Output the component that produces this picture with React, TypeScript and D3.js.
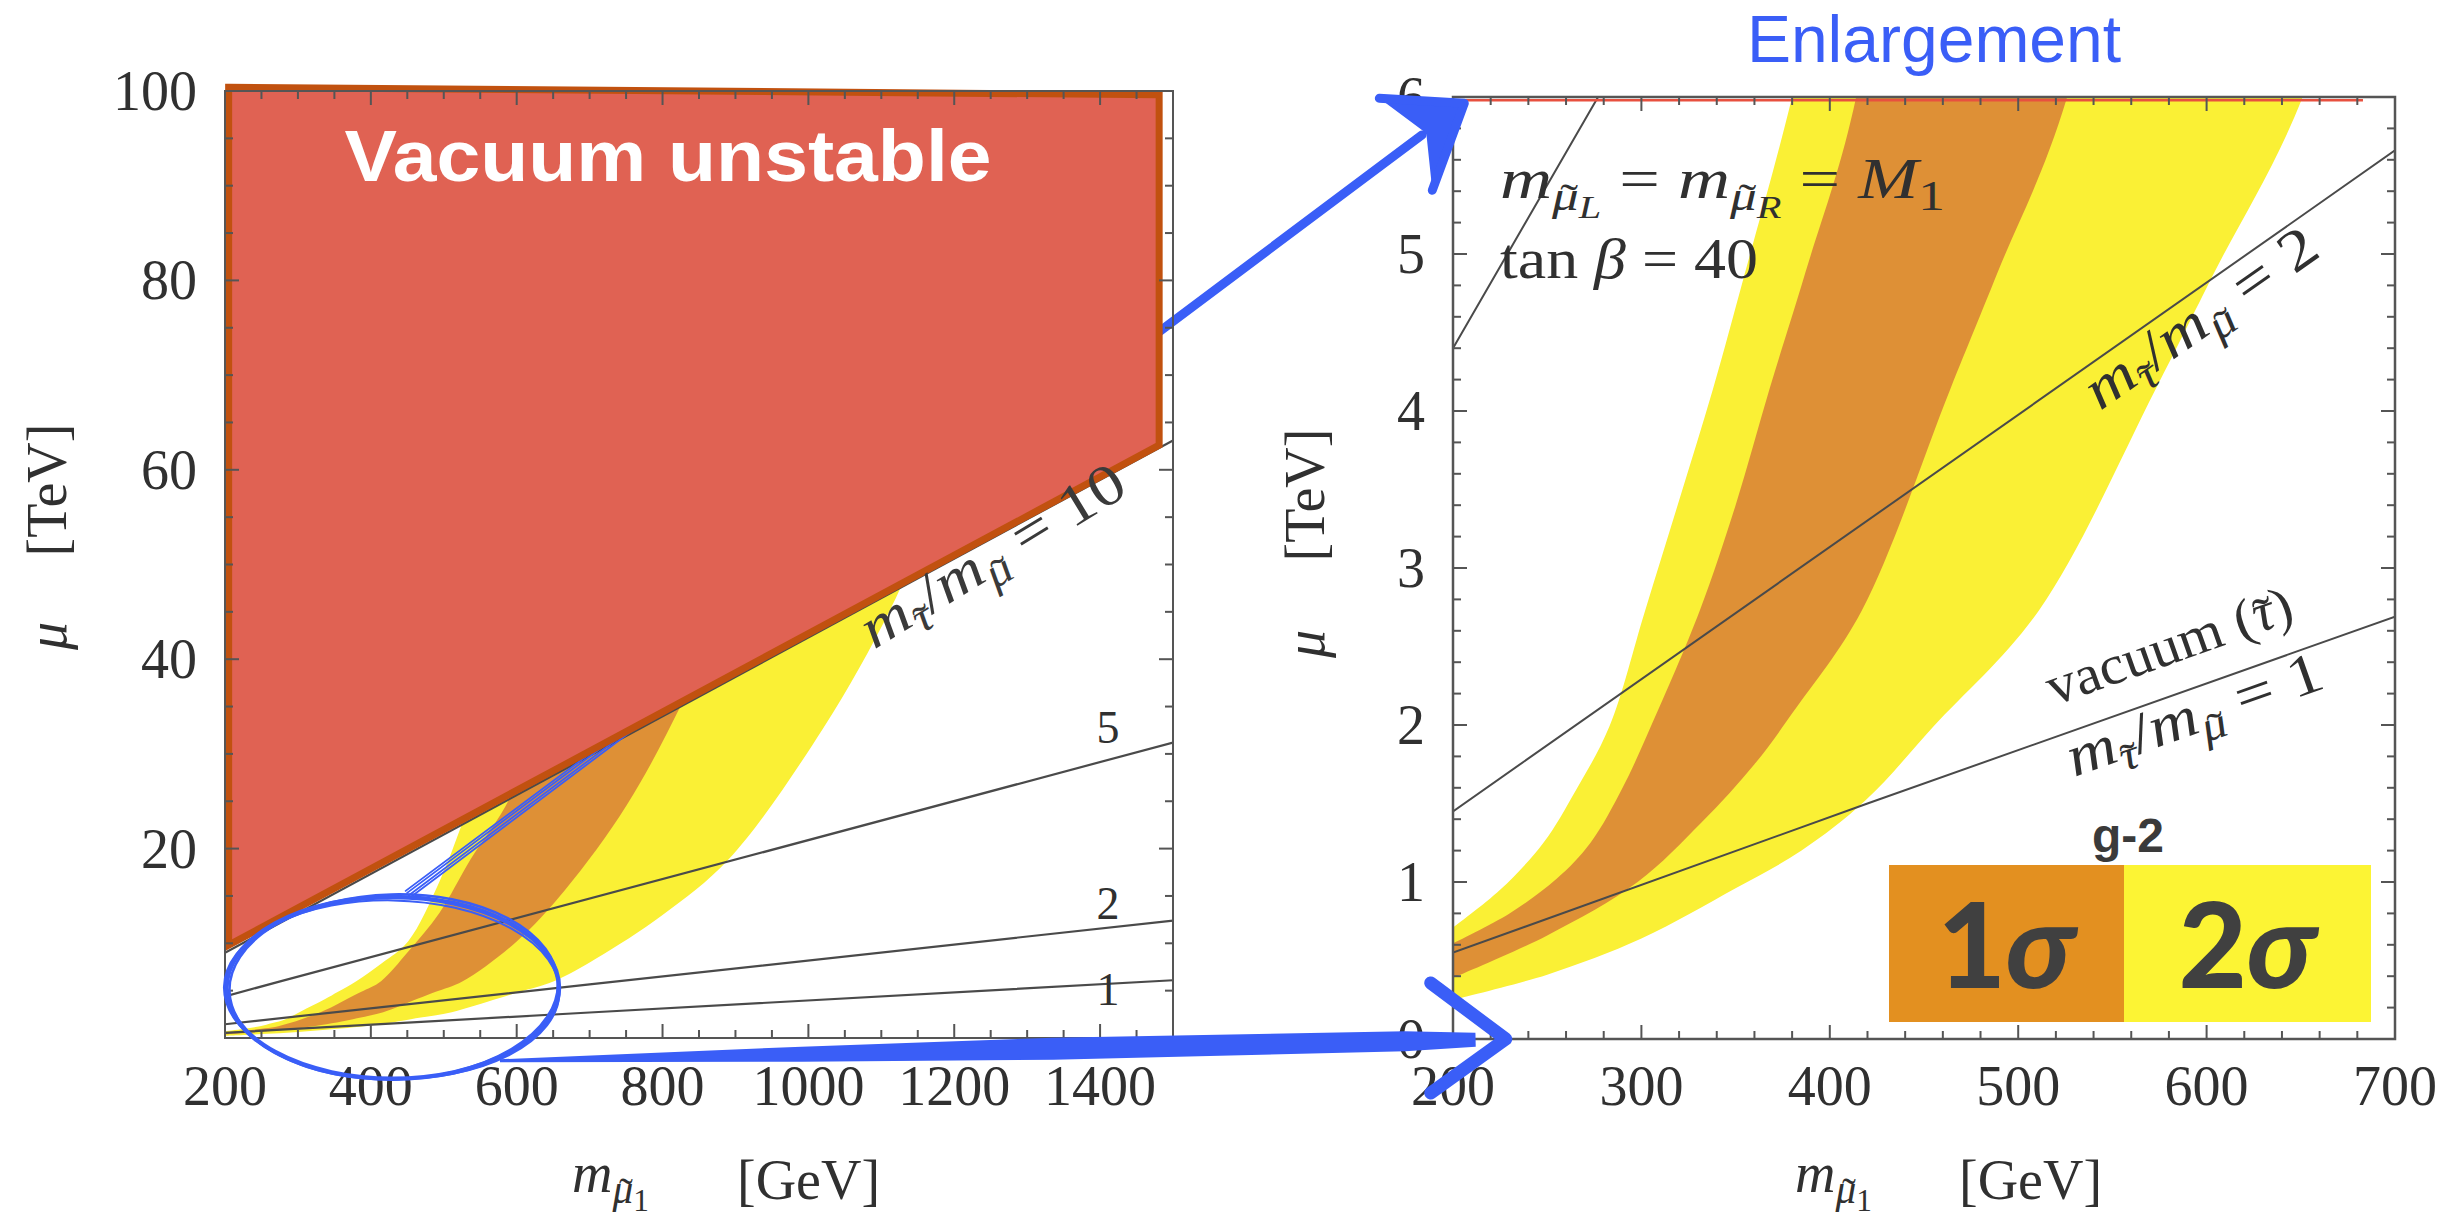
import React from "react";
import * as d3 from "d3";

type P = [number, number];

// ---------------- data (x: GeV, y: TeV) ----------------
const yellowUpper: P[] = [[200,0.71],[225,0.95],[248,1.25],[265,1.58],[283,1.99],[302,2.73],[320,3.43],[338,4.14],[355,4.88],[380,6.0],[415,7.9],[451,10.2],[494,16.5],[526,22.8],[560,30],[600,40],[640,52]];
const yellowLower: P[] = [[200,0.25],[250,0.41],[300,0.64],[350,0.96],[385,1.2],[419,1.52],[455,1.99],[511,2.73],[573,4.14],[604,4.88],[651,6.0],[709,8.4],[800,13],[891,18.9],[1021,32.8],[1112,45.2],[1180,57]];
const orangeUpper: P[] = [[200,0.61],[230,0.8],[255,1.02],[273,1.25],[290,1.6],[305,1.99],[331,2.73],[350,3.4],[368,4.14],[387,4.88],[414,6.0],[451,9.1],[494,13.2],[537,18.9],[591,25.4],[640,36],[690,48]];
const orangeLower: P[] = [[200,0.39],[250,0.66],[298,1.0],[332,1.38],[360,1.75],[381,2.09],[417,2.73],[464,4.14],[489,4.88],[526,6.0],[600,10.2],[666,15.6],[751,24.6],[827,35.4],[900,48],[960,60]];

const ratio1: P[] = [[200,0.55],[420,1.5],[700,2.69],[1500,6.1]];
const ratio2: P[] = [[200,1.45],[700,5.66],[1500,12.4]];
const ratio5: P[] = [[200,4.4],[277,6.0],[1500,31.2]];
const ratio10: P[] = [[200,9.0],[1500,63.1]];

const vacuumRegion: P[] = [[205,100.4],[1481,99.6],[1481,62.6],[205,9.8]];
const vacuumTopLine: P[] = [[200,5.98],[683,5.98]];

const leftXTicks = [200,400,600,800,1000,1200,1400];
const leftYTicks = [20,40,60,80,100];
const rightXTicks = [200,300,400,500,600,700];
const rightYTicks = [0,1,2,3,4,5,6];

// annotation anchors (data coords)
const circleCenter: P = [430, 5.3];
const circleRadii: P = [228, 9.6];
const topArrowFrom: P = [451, 15.2];   // left plot
const topArrowTo: P = [206, 5.96];     // right plot
const bottomArrowFrom: P = [577, -2.4]; // left plot
const bottomArrowTo: P = [228, 0];      // right plot

// ---------------- styles ----------------
const SERIF = "'Liberation Serif', 'DejaVu Serif', serif";
const SANS = "'Liberation Sans', Arial, sans-serif";
const YELLOW = "#FAF035";
const ORANGE = "#DE9036";
const RED = "#E06253";
const RED_EDGE = "#C1510F";
const BLUE = "#3A5EF7";
const GRAY = "#4a4a4a";
const TXT = "#303030";

const xL = d3.scaleLinear().domain([200, 1500]).range([225, 1173]);
const yL = d3.scaleLinear().domain([0, 100]).range([1038, 91]);
const xR = d3.scaleLinear().domain([200, 700]).range([1453, 2395]);
const yR = d3.scaleLinear().domain([0, 6]).range([1039, 97]);

type Seg = { t: string; it?: boolean; lvl?: number; tl?: number };
const OFF = [0, 0.2, 0.34];
const SC = [1, 0.74, 0.56];

function MathText(props: { x?: number; y?: number; size: number; segs: Seg[]; fill?: string; anchor?: string; transform?: string; len?: number }) {
  let prev = 0;
  let pdx = 0, pdy = 0;
  const nodes: JSX.Element[] = [];
  props.segs.forEach((s, i) => {
    const lvl = s.lvl ?? 0;
    const fs = props.size * SC[lvl];
    const dy = (OFF[lvl] - OFF[prev]) * props.size + pdy;
    prev = lvl;
    nodes.push(
      <tspan key={i} dx={pdx} dy={dy} fontSize={fs} fontStyle={s.it ? "italic" : "normal"}>{s.t}</tspan>
    );
    pdx = 0; pdy = 0;
    if (s.tl) {
      const g = s.tl;
      const sh = s.it ? 0.07 : 0;
      const lift = 0.08 * fs;
      nodes.push(
        <tspan key={i + "t"} dx={(-(g + 0.333) / 2 + sh) * fs} dy={lift} fontSize={fs} fontStyle="normal">{"\u02DC"}</tspan>
      );
      pdx = ((g - 0.333) / 2 - sh) * fs;
      pdy = -lift;
    }
  });
  return (
    <text x={props.x ?? 0} y={props.y ?? 0} fontSize={props.size} fontFamily={SERIF} fill={props.fill ?? TXT}
      textAnchor={props.anchor ?? "start"} transform={props.transform} style={{ whiteSpace: "pre" }}
      textLength={props.len} lengthAdjust={props.len ? "spacingAndGlyphs" : undefined}>
      {nodes}
    </text>
  );
}

const MU = "\u03BC", TAU = "\u03C4";
const ratioSegs = (n: string): Seg[] => [
  { t: "m", it: true }, { t: TAU, it: true, lvl: 1, tl: 0.44 }, { t: "/", lvl: 0 },
  { t: "m", it: true }, { t: MU, it: true, lvl: 1, tl: 0.5 }, { t: " = " + n, lvl: 0 },
];
const xTitleSegs: Seg[] = [{ t: "m", it: true }, { t: MU, it: true, lvl: 1, tl: 0.5 }, { t: "1", lvl: 2 }];
const eqSegs: Seg[] = [
  { t: "m", it: true }, { t: MU, it: true, lvl: 1, tl: 0.5 }, { t: "L", it: true, lvl: 2 }, { t: " = ", lvl: 0 },
  { t: "m", it: true }, { t: MU, it: true, lvl: 1, tl: 0.5 }, { t: "R", it: true, lvl: 2 }, { t: " = ", lvl: 0 },
  { t: "M", it: true }, { t: "1", lvl: 1 },
];
const tanSegs: Seg[] = [{ t: "tan " }, { t: "\u03B2", it: true }, { t: " = 40" }];
const vacSegs: Seg[] = [{ t: "vacuum (" }, { t: TAU, it: true, tl: 0.44 }, { t: ")" }];

function interp(pts: P[], x: number): number {
  for (let i = 0; i < pts.length - 1; i++) {
    const [x0, y0] = pts[i], [x1, y1] = pts[i + 1];
    if (x >= x0 && x <= x1) return y0 + ((x - x0) / (x1 - x0)) * (y1 - y0);
  }
  return pts[pts.length - 1][1];
}
function along(pts: P[], gev: number, xs: any, ys: any, extra = 0) {
  const y = interp(pts, gev);
  const d = 5;
  const a = Math.atan2(ys(interp(pts, gev + d)) - ys(interp(pts, gev - d)), xs(gev + d) - xs(gev - d)) * 180 / Math.PI;
  return `translate(${xs(gev)},${ys(y)}) rotate(${a + extra})`;
}

export default function App() {
  const curve = d3.line<P>().curve(d3.curveCatmullRom.alpha(0.5));
  const straight = d3.line<P>();
  const band = (up: P[], lo: P[], xs: any, ys: any) => {
    const u = up.map((p) => [xs(p[0]), ys(p[1])] as P);
    const l = lo.slice().reverse().map((p) => [xs(p[0]), ys(p[1])] as P);
    return curve(u) + "L" + (curve(l) as string).slice(1) + "Z";
  };
  const pl = (pts: P[], xs: any, ys: any) => straight(pts.map((p) => [xs(p[0]), ys(p[1])] as P)) as string;

  const ticks = (xs: any, ys: any, xt: number[], yt: number[], xMaj: (v: number) => boolean, yMaj: (v: number) => boolean) => {
    const [x0, x1] = xs.range();
    const [y0, y1] = ys.range();
    const out: JSX.Element[] = [];
    xt.forEach((v, i) => {
      const L = xMaj(v) ? 14 : 8;
      const X = xs(v);
      out.push(<line key={"b" + i} x1={X} x2={X} y1={y0} y2={y0 - L} />);
      out.push(<line key={"t" + i} x1={X} x2={X} y1={y1} y2={y1 + L} />);
    });
    yt.forEach((v, i) => {
      const L = yMaj(v) ? 14 : 8;
      const Y = ys(v);
      out.push(<line key={"l" + i} x1={x0} x2={x0 + L} y1={Y} y2={Y} />);
      out.push(<line key={"r" + i} x1={x1} x2={x1 - L} y1={Y} y2={Y} />);
    });
    return <g stroke="#555" strokeWidth={2}>{out}</g>;
  };

  // annotation geometry
  const cx = xL(circleCenter[0]), cy = yL(circleCenter[1]);
  const rx = xL(circleCenter[0] + circleRadii[0]) - cx;
  const ry = yL(circleCenter[1] - circleRadii[1]) - cy;

  const A: P = [xL(topArrowFrom[0]), yL(topArrowFrom[1])];
  const T: P = [xR(topArrowTo[0]), yR(topArrowTo[1])];
  const tdx = T[0] - A[0], tdy = T[1] - A[1];
  const tlen = Math.hypot(tdx, tdy);
  const tn: P = [-tdy / tlen, tdx / tlen];
  const atT = (t: number, off: number): P => [A[0] + tdx * t + tn[0] * off, A[1] + tdy * t + tn[1] * off];

  const S: P = [xL(bottomArrowFrom[0]), yL(bottomArrowFrom[1])];
  const E: P = [xR(bottomArrowTo[0]), yR(bottomArrowTo[1])];
  const bdx = E[0] - S[0], bdy = E[1] - S[1];
  const blen = Math.hypot(bdx, bdy);
  const bn: P = [-bdy / blen, bdx / blen];
  const stations: P[] = [[0, 3], [0.3, 15], [0.55, 22], [0.9, 20], [0.97, 14]];
  const atB = (t: number, off: number): P => [S[0] + bdx * t + bn[0] * off, S[1] + bdy * t + bn[1] * off];
  const taper = [
    ...stations.map(([t, w]) => atB(t, -w / 2)),
    ...stations.slice().reverse().map(([t, w]) => atB(t, w / 2)),
  ];

  return (
    <svg width={2460} height={1219} style={{ position: "absolute", left: 0, top: 0, background: "#fff" }}>
      <defs>
        <clipPath id="clipL"><rect x={225} y={91} width={948} height={947} /></clipPath>
        <clipPath id="clipR"><rect x={1453} y={97} width={942} height={942} /></clipPath>
      </defs>
      <rect x={0} y={0} width={2460} height={1219} fill="#fff" />

      {/* ---------- LEFT PLOT ---------- */}
      <g clipPath="url(#clipL)">
        <path d={band(yellowUpper, yellowLower, xL, yL)} fill={YELLOW} />
        <path d={band(orangeUpper, orangeLower, xL, yL)} fill={ORANGE} />
        {[ratio1, ratio2, ratio5, ratio10].map((r, i) => (
          <path key={i} d={pl(r, xL, yL)} fill="none" stroke={GRAY} strokeWidth={2.2} />
        ))}
      </g>
      {/* top arrow shaft (passes behind the red region) */}
      <g stroke={BLUE} fill="none" strokeLinecap="round">
        {[-4, -1.5, 1.5, 4].map((o, i) => {
          const p0 = atT(0, o), p1 = atT(1, o * 0.3);
          return <line key={i} x1={p0[0]} y1={p0[1]} x2={p1[0]} y2={p1[1]} strokeWidth={1.8} />;
        })}
        {(() => { const p0 = atT(0.71, 0), p1 = atT(0.96, 0); return <line x1={p0[0]} y1={p0[1]} x2={p1[0]} y2={p1[1]} strokeWidth={9} />; })()}
      </g>
      <path d={straight(vacuumRegion.map((p) => [xL(p[0]), yL(p[1])] as P)) + "Z"} fill={RED} stroke={RED_EDGE} strokeWidth={7} strokeLinejoin="miter" />
      {ticks(xL, yL, d3.range(200, 1501, 50), d3.range(0, 101, 5), (v) => v % 200 === 0, (v) => v % 20 === 0)}
      <rect x={225} y={91} width={948} height={947} fill="none" stroke="#555" strokeWidth={2} />
      <text x={668} y={181} fill="#fff" fontFamily={SANS} fontWeight="bold" fontSize={72} textAnchor="middle" textLength={647} lengthAdjust="spacingAndGlyphs">Vacuum unstable</text>

      <MathText size={58} segs={ratioSegs("10")} fill={"#3a3a3a"} transform={along(ratio10, 1060, xL, yL, -3)} y={42} len={300} />
      {[["5", 31.2], ["2", 12.6], ["1", 3.5]].map(([t, v]) => (
        <text key={t as string} x={xL(1411)} y={yL(v as number)} fontFamily={SERIF} fontSize={46} fill={TXT} textAnchor="middle">{t}</text>
      ))}

      {leftXTicks.map((v) => (
        <text key={v} x={xL(v)} y={1105} fontFamily={SERIF} fontSize={56} fill={TXT} textAnchor="middle">{v}</text>
      ))}
      {leftYTicks.map((v) => (
        <text key={v} x={197} y={yL(v) + 19} fontFamily={SERIF} fontSize={56} fill={TXT} textAnchor="end">{v}</text>
      ))}
      <MathText size={56} segs={xTitleSegs} x={572} y={1192} />
      <text x={737} y={1199} fontFamily={SERIF} fontSize={56} fill={TXT}>[GeV]</text>
      <text transform="translate(66,636) rotate(-90)" fontFamily={SERIF} fontSize={56} fontStyle="italic" fill={TXT} textAnchor="middle">μ</text>
      <text transform="translate(66,490) rotate(-90)" fontFamily={SERIF} fontSize={56} fill={TXT} textAnchor="middle">[TeV]</text>

      {/* ---------- RIGHT PLOT ---------- */}
      <g clipPath="url(#clipR)">
        <path d={band(yellowUpper, yellowLower, xR, yR)} fill={YELLOW} />
        <path d={band(orangeUpper, orangeLower, xR, yR)} fill={ORANGE} />
        {[ratio1, ratio2, ratio5].map((r, i) => (
          <path key={i} d={pl(r, xR, yR)} fill="none" stroke={GRAY} strokeWidth={2} />
        ))}
        <path d={pl(vacuumTopLine, xR, yR)} stroke="#E8503F" strokeWidth={2.5} fill="none" />
      </g>
      {ticks(xR, yR, d3.range(200, 701, 20), d3.range(0, 6.001, 0.2).map((v) => +v.toFixed(1)), (v) => v % 100 === 0, (v) => Math.abs(v - Math.round(v)) < 1e-6)}
      <rect x={1453} y={97} width={942} height={942} fill="none" stroke="#555" strokeWidth={2.5} />

      <MathText size={58} segs={eqSegs} x={1500} y={198} len={445} />
      <MathText size={58} segs={tanSegs} x={1500} y={278} len={258} />
      <MathText size={58} segs={ratioSegs("2")} transform={along(ratio2, 530, xR, yR)} y={44} len={272} />
      <MathText size={55} segs={vacSegs} transform={along(ratio1, 524, xR, yR)} y={-30} len={258} />
      <MathText size={58} segs={ratioSegs("1")} transform={along(ratio1, 522, xR, yR)} y={44} len={268} />

      {rightXTicks.map((v) => (
        <text key={v} x={xR(v)} y={1105} fontFamily={SERIF} fontSize={56} fill={TXT} textAnchor="middle">{v}</text>
      ))}
      {rightYTicks.map((v) => (
        <text key={v} x={1425} y={yR(v) + 19} fontFamily={SERIF} fontSize={56} fill={TXT} textAnchor="end">{v}</text>
      ))}
      <MathText size={56} segs={xTitleSegs} x={1795} y={1192} />
      <text x={1959} y={1199} fontFamily={SERIF} fontSize={56} fill={TXT}>[GeV]</text>
      <text transform="translate(1324,644) rotate(-90)" fontFamily={SERIF} fontSize={56} fontStyle="italic" fill={TXT} textAnchor="middle">μ</text>
      <text transform="translate(1324,495) rotate(-90)" fontFamily={SERIF} fontSize={56} fill={TXT} textAnchor="middle">[TeV]</text>

      {/* legend */}
      <text x={2128} y={852} fontFamily={SANS} fontWeight="bold" fontSize={48} fill="#3a3a3a" textAnchor="middle">g-2</text>
      <rect x={1889} y={865} width={235} height={157} fill="#E39020" />
      <rect x={2124} y={865} width={247} height={157} fill="#FCF434" />
      <text x={2006} y={988} fontFamily="Lato, 'Liberation Sans', sans-serif" fontWeight={900} fontSize={118} fill="#404040" textAnchor="middle">1<tspan fontStyle="italic">σ</tspan></text>
      <text x={2247} y={988} fontFamily="Lato, 'Liberation Sans', sans-serif" fontWeight={900} fontSize={118} fill="#404040" textAnchor="middle">2<tspan fontStyle="italic">σ</tspan></text>

      <text x={1934} y={62} fontFamily={SANS} fontSize={66} fill={BLUE} textAnchor="middle">Enlargement</text>

      {/* ---------- blue annotations ---------- */}
      <g fill="none" stroke={BLUE} strokeLinecap="round">
        <ellipse cx={cx} cy={cy} rx={rx} ry={ry} strokeWidth={4.5} />
        <ellipse cx={cx + 1} cy={cy - 1} rx={rx - 2} ry={ry + 1.5} strokeWidth={2.5} transform={`rotate(-1.5 ${cx} ${cy})`} />
        <ellipse cx={cx - 1} cy={cy + 2} rx={rx + 1.5} ry={ry - 1.5} strokeWidth={2} transform={`rotate(1 ${cx} ${cy})`} />
      </g>
      <path d={straight(taper) + "Z"} fill={BLUE} />
      <polyline points={`${E[0] - 75},${E[1] - 56} ${E[0]},${E[1]} ${E[0] - 75},${E[1] + 54}`} fill="none" stroke={BLUE} strokeWidth={13} strokeLinejoin="round" strokeLinecap="round" />
      <polygon points={`${T[0] - 85},${T[1] - 5} ${T[0] + 2},${T[1] - 2} ${T[0] - 32},${T[1] + 87} ${T[0] - 38},${T[1] + 30}`} fill={BLUE} />
      <polyline points={`${T[0] - 85},${T[1] - 5} ${T[0]},${T[1]} ${T[0] - 32},${T[1] + 87}`} fill="none" stroke={BLUE} strokeWidth={9} strokeLinejoin="round" strokeLinecap="round" />
    </svg>
  );
}
